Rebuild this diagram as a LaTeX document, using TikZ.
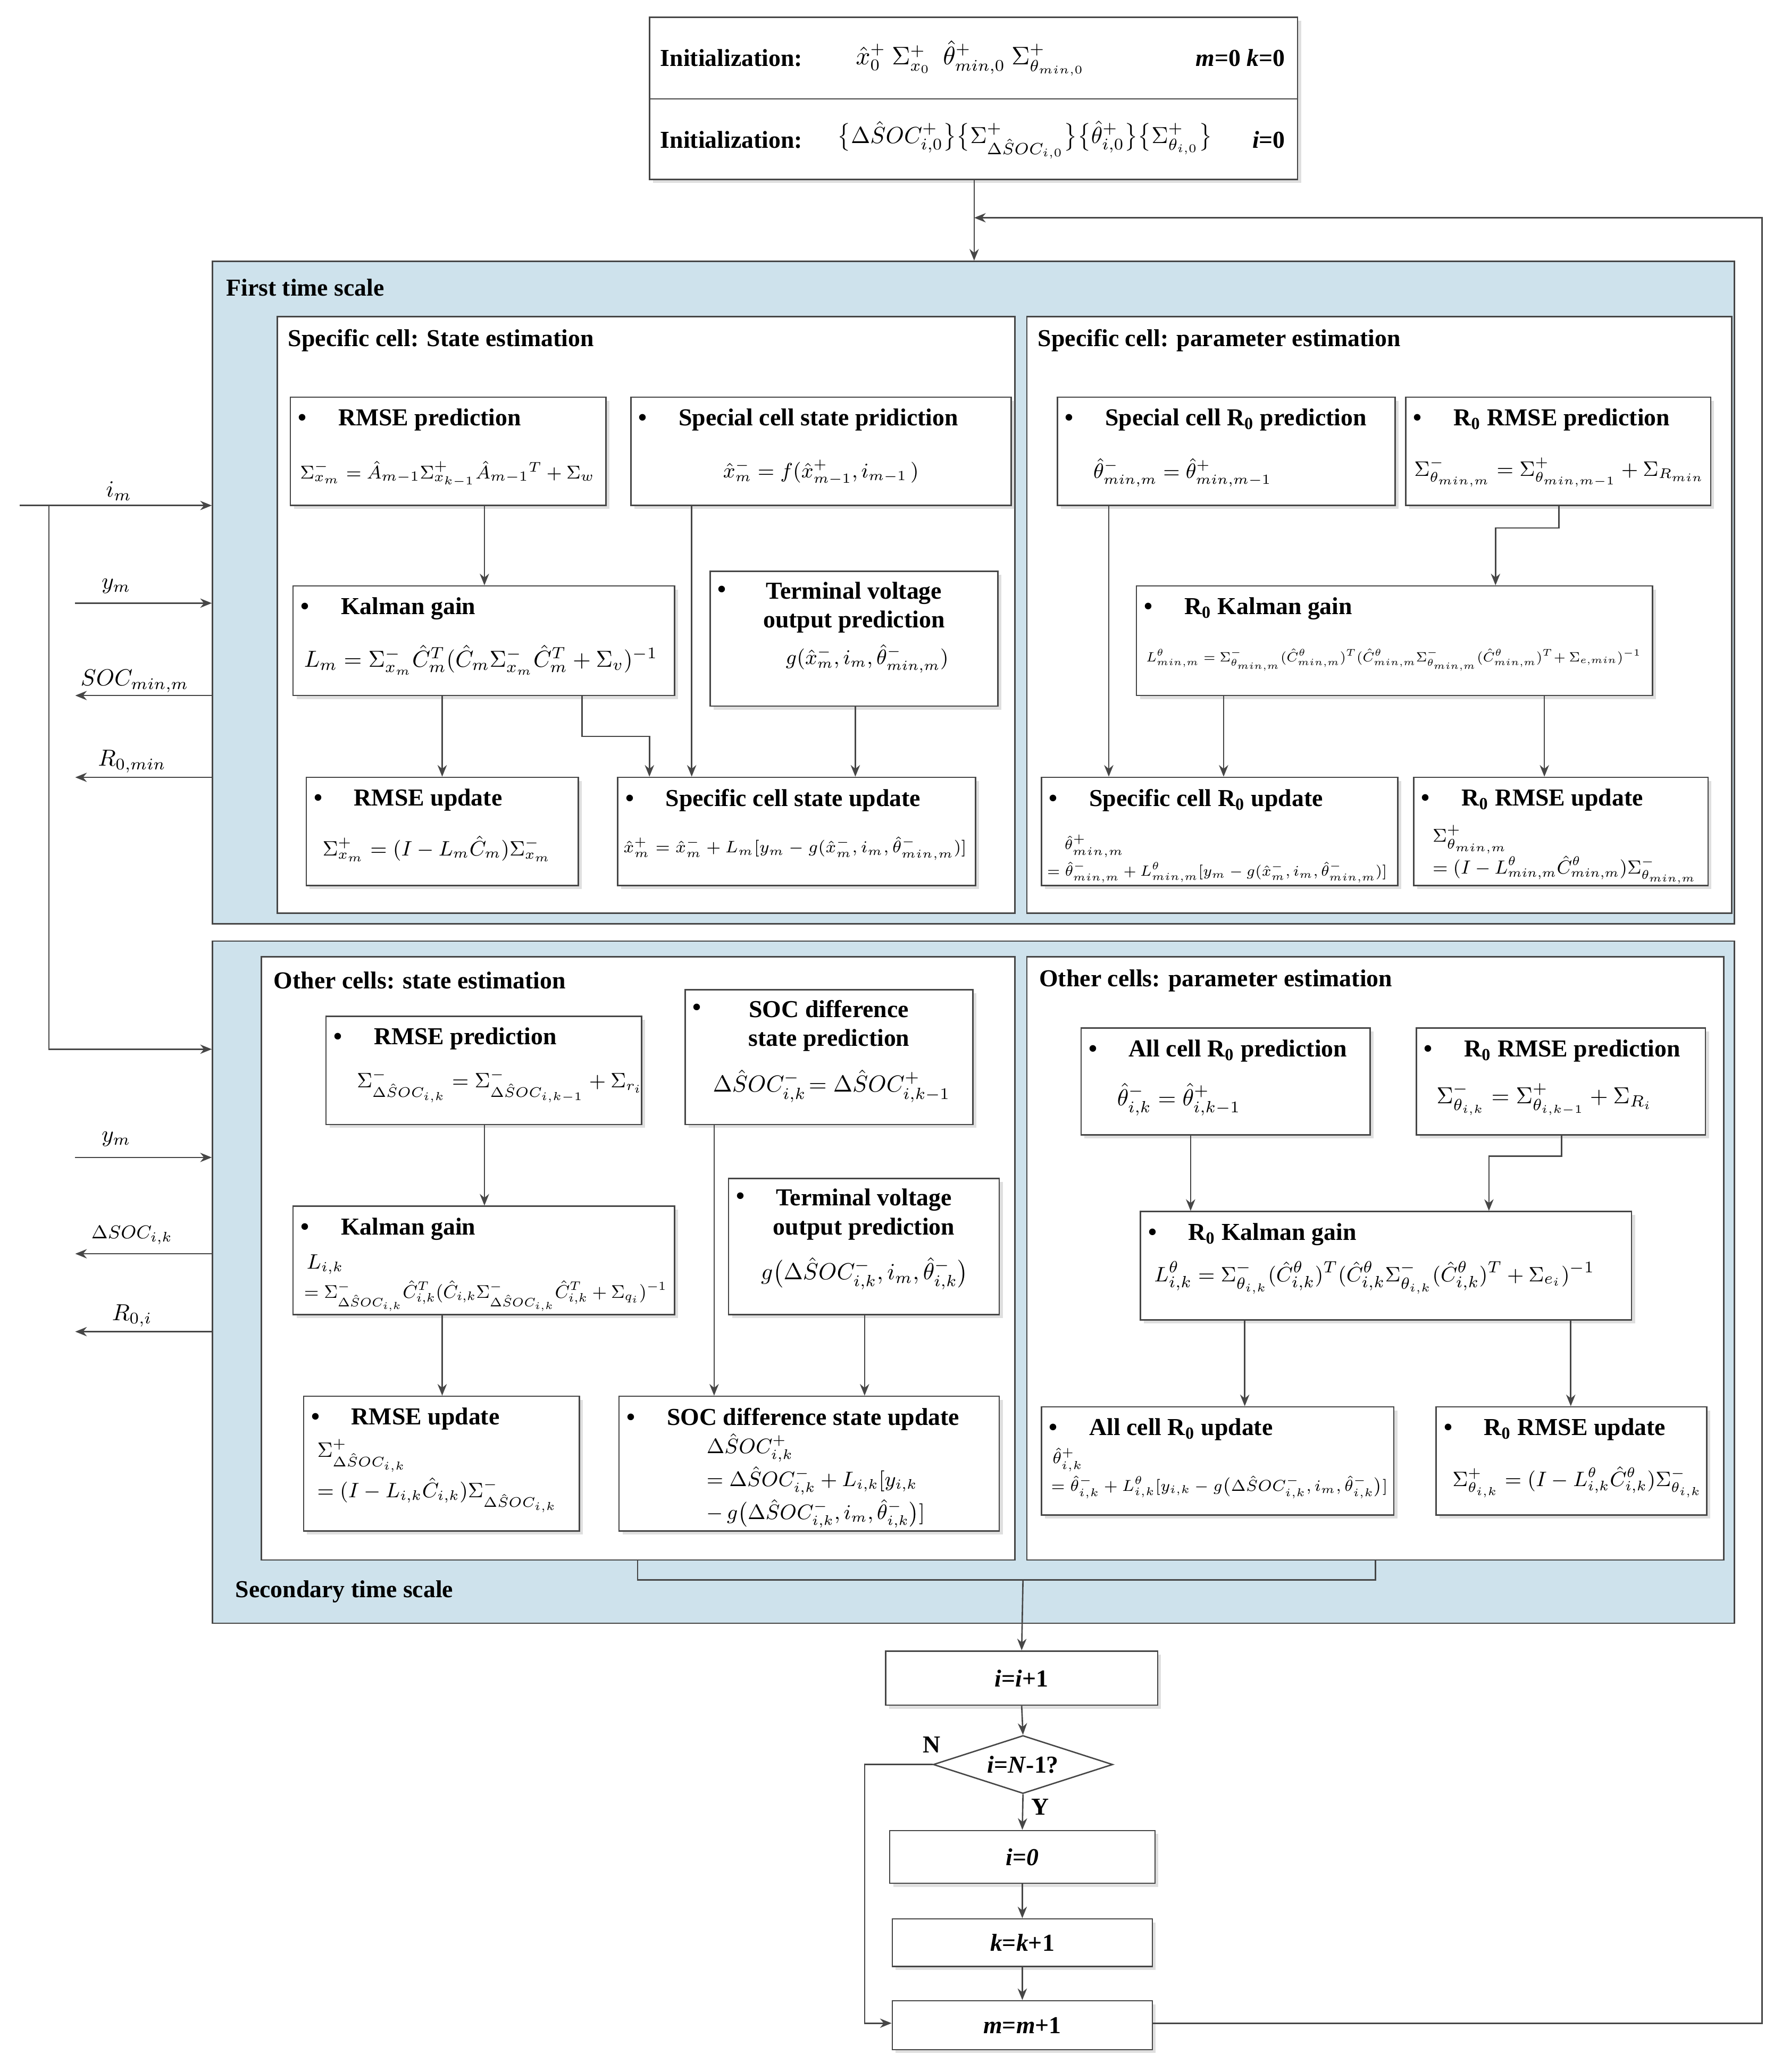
\documentclass[tikz,border=0pt]{standalone}
\usepackage{fontspec}
\setmainfont{Liberation Serif}
\usepackage{amsmath}
\usepackage{graphicx}
\usetikzlibrary{fit,shadows,arrows.meta,shapes.geometric}
\definecolor{panel}{RGB}{206,226,236}
\definecolor{ln}{RGB}{70,70,70}
\tikzset{
 box/.style={draw=ln,fill=white,inner sep=0pt,line width=0.6pt,drop shadow={opacity=0.25,shadow xshift=1.5pt,shadow yshift=-1.5pt}},
 pan/.style={draw=ln,inner sep=0pt,line width=0.6pt},
 ttl/.style={font=\fontsize{10.5}{12.5}\selectfont\bfseries,inner sep=0pt},
 fml/.style={font=\fontsize{9}{11}\selectfont,inner sep=0pt},
 sml/.style={font=\fontsize{7}{9}\selectfont,inner sep=0pt},
 lbl/.style={font=\fontsize{10}{12}\selectfont,inner sep=0pt},
 arr/.style={draw=ln,line width=0.6pt,-{Stealth[length=5pt,width=4pt]}},
 lin/.style={draw=ln,line width=0.6pt}
}
\newcommand\mybox[6]{\node[box,fit={(#2,#3)(#4,#5)}] (#1) {};
 \node[ttl,anchor=north west] at ([shift={(6,9)}]#1.north west) {\textbullet\hspace{1.3em}#6};}
\newcommand\myboxc[6]{\node[box,fit={(#2,#3)(#4,#5)}] (#1) {};
 \node[ttl,anchor=north west] at ([shift={(6,11)}]#1.north west) {\textbullet};
 \node[ttl,anchor=north,align=center] at ([shift={(0,8)}]#1.north) {#6};}
\newcommand\fitw[2]{\resizebox{#1}{!}{#2}}
\begin{document}
\begin{tikzpicture}[x=0.02cm,y=-0.02cm]
\useasboundingbox (0,0) rectangle (1350,1570);
% init
\node[box,fit={(492,13)(983,136)}] (init) {};
\draw[lin] (492,75) -- (983,75);
\node[ttl,anchor=west] at (500,44) {Initialization:};
\node[fml,anchor=west] at (648,44) {\fontsize{10.5}{12}\selectfont$\hat x_0^+\ \Sigma^+_{x_0}\ \ \hat\theta^+_{min,0}\ \Sigma^+_{\theta_{min,0}}$};
\node[ttl,anchor=east] at (974,44) {\textit{m}=0 \textit{k}=0};
\node[ttl,anchor=west] at (500,106) {Initialization:};
\node[fml,anchor=west] at (634,106) {\fontsize{10}{12}\selectfont$\big\{\Delta\hat SOC^+_{i,0}\big\}\big\{\Sigma^+_{\Delta\hat SOC_{i,0}}\big\}\big\{\hat\theta^+_{i,0}\big\}\big\{\Sigma^+_{\theta_{i,0}}\big\}$};
\node[ttl,anchor=east] at (974,106) {\textit{i}=0};
% first panel
\node[pan,fill=panel,fit={(161,198)(1314,700)}] (p1) {};
\node[ttl,anchor=west] at (171,218) {First time scale};
\node[pan,fill=white,fit={(210,240)(769,692)}] (s1) {};
\node[ttl,anchor=west] at (218,258) {Specific cell: State estimation};
\node[pan,fill=white,fit={(778,240)(1312,692)}] (s2) {};
\node[ttl,anchor=west] at (786,258) {Specific cell: parameter estimation};

\mybox{a1}{220}{301}{459}{383}{RMSE prediction}
\node[fml,anchor=west] at (227,359) {\fontsize{8.5}{10}\selectfont$\Sigma^-_{x_m}=\hat A_{m-1}\Sigma^+_{x_{k-1}}\hat A_{m-1}{}^{T}+\Sigma_w$};
\mybox{a2}{478}{301}{766}{383}{Special cell state pridiction}
\node[fml] at (622,358) {$\hat x^-_m=f(\hat x^+_{m-1},i_{m-1}\,)$};
\mybox{a3}{222}{444}{511}{527}{Kalman gain}
\node[fml,anchor=west] at (230,500) {\fontsize{10}{12}\selectfont$L_m=\Sigma^-_{x_m}\hat C_m^T(\hat C_m\Sigma^-_{x_m}\hat C_m^T+\Sigma_v)^{-1}$};
\myboxc{a4}{538}{433}{756}{535}{Terminal voltage\\output prediction}
\node[fml] at (657,499) {$g(\hat x^-_m,i_m,\hat\theta^-_{min,m})$};
\mybox{a5}{232}{589}{438}{671}{RMSE update}
\node[fml,anchor=west] at (244,643) {$\Sigma^+_{x_m}=(I-L_m\hat C_m)\Sigma^-_{x_m}$};
\mybox{a6}{468}{589}{739}{671}{Specific cell state update}
\node[sml,anchor=west] at (472,643) {\fitw{5.2cm}{$\hat x^+_m=\hat x^-_m+L_m[y_m-g(\hat x^-_m,i_m,\hat\theta^-_{min,m})]$}};

\mybox{b1}{801}{301}{1057}{383}{Special cell R$_\mathbf{0}$ prediction}
\node[fml,anchor=west] at (828,358) {$\hat\theta^-_{min,m}=\hat\theta^+_{min,m-1}$};
\mybox{b2}{1065}{301}{1296}{383}{R$_\mathbf{0}$ RMSE prediction}
\node[fml,anchor=west] at (1071,358) {\fitw{4.4cm}{$\Sigma^-_{\theta_{min,m}}=\Sigma^+_{\theta_{min,m-1}}+\Sigma_{R_{min}}$}};
\mybox{b3}{861}{444}{1252}{527}{R$_\mathbf{0}$ Kalman gain}
\node[sml,anchor=west] at (868,500) {\fitw{7.5cm}{$L^\theta_{min,m}=\Sigma^-_{\theta_{min,m}}(\hat C^\theta_{min,m})^T(\hat C^\theta_{min,m}\Sigma^-_{\theta_{min,m}}(\hat C^\theta_{min,m})^T\!+\Sigma_{e,min})^{-1}$}};
\mybox{b4}{789}{589}{1059}{671}{Specific cell R$_\mathbf{0}$ update}
\node[sml,anchor=west] at (806,641) {\fontsize{6.3}{8}\selectfont$\hat\theta^+_{min,m}$};
\node[sml,anchor=west] at (793,661) {\fitw{5.15cm}{$=\hat\theta^-_{min,m}+L^\theta_{min,m}[y_m-g(\hat x^-_m,i_m,\hat\theta^-_{min,m})]$}};
\mybox{b5}{1071}{589}{1294}{671}{R$_\mathbf{0}$ RMSE update}
\node[fml,anchor=west] at (1085,636) {\fontsize{8}{10}\selectfont$\Sigma^+_{\theta_{min,m}}$};
\node[fml,anchor=west] at (1085,659) {\fitw{4.0cm}{$=(I-L^\theta_{min,m}\hat C^\theta_{min,m})\Sigma^-_{\theta_{min,m}}$}};

\draw[arr] (a1.south -| 367,0) -- (a3.north -| 367,0);
\draw[arr] (a2.south -| 524,0) -- (a6.north -| 524,0);
\draw[arr] (a3.south -| 335,0) -- (a5.north -| 335,0);
\draw[arr] (a3.south -| 441,0) -- (441,558) -- (492,558) -- (a6.north -| 492,0);
\draw[arr] (a4.south -| 648,0) -- (a6.north -| 648,0);
\draw[arr] (b1.south -| 840,0) -- (b4.north -| 840,0);
\draw[arr] (b2.south -| 1181,0) -- (1181,400) -- (1133,400) -- (b3.north -| 1133,0);
\draw[arr] (b3.south -| 927,0) -- (b4.north -| 927,0);
\draw[arr] (b3.south -| 1170,0) -- (b5.north -| 1170,0);

% second panel
\node[pan,fill=panel,fit={(161,713)(1314,1230)}] (p2) {};
\node[ttl,anchor=west] at (178,1206) {Secondary time scale};
\node[pan,fill=white,fit={(198,725)(769,1182)}] (s3) {};
\node[ttl,anchor=west] at (207,743) {Other cells: state estimation};
\node[pan,fill=white,fit={(778,725)(1306,1182)}] (s4) {};
\node[ttl,anchor=west] at (787,743) {Other cells: parameter estimation};

\mybox{c1}{247}{770}{486}{852}{RMSE prediction}
\node[fml,anchor=west] at (270,823) {$\Sigma^-_{\Delta\hat SOC_{i,k}}=\Sigma^-_{\Delta\hat SOC_{i,k-1}}+\Sigma_{r_i}$};
\myboxc{c2}{519}{750}{737}{852}{SOC difference\\state prediction}
\node[fml] at (630,823) {\fontsize{10}{12}\selectfont$\Delta\hat SOC^-_{i,k}\!=\Delta\hat SOC^+_{i,k-1}$};
\mybox{c3}{222}{914}{511}{996}{Kalman gain}
\node[fml,anchor=west] at (232,958) {$L_{i,k}$};
\node[fml,anchor=west] at (230,982) {\fitw{5.5cm}{$=\Sigma^-_{\Delta\hat SOC_{i,k}}\hat C^T_{i,k}(\hat C_{i,k}\Sigma^-_{\Delta\hat SOC_{i,k}}\hat C^T_{i,k}+\Sigma_{q_i})^{-1}$}};
\myboxc{c4}{552}{893}{757}{996}{Terminal voltage\\output prediction}
\node[fml] at (655,965) {\fontsize{10}{12}\selectfont$g\big(\Delta\hat SOC^-_{i,k},i_m,\hat\theta^-_{i,k}\big)$};
\mybox{c5}{230}{1058}{439}{1160}{RMSE update}
\node[fml,anchor=west] at (240,1103) {$\Sigma^+_{\Delta\hat SOC_{i,k}}$};
\node[fml,anchor=west] at (240,1133) {$=(I-L_{i,k}\hat C_{i,k})\Sigma^-_{\Delta\hat SOC_{i,k}}$};
\mybox{c6}{469}{1058}{757}{1160}{SOC difference state update}
\node[fml,anchor=west] at (535,1097) {$\Delta\hat SOC^+_{i,k}$};
\node[fml,anchor=west] at (535,1122) {$=\Delta\hat SOC^-_{i,k}+L_{i,k}[y_{i,k}$};
\node[fml,anchor=west] at (535,1147) {$-\,g\big(\Delta\hat SOC^-_{i,k},i_m,\hat\theta^-_{i,k}\big)]$};

\mybox{d1}{819}{779}{1038}{860}{All cell R$_\mathbf{0}$ prediction}
\node[fml,anchor=west] at (846,833) {\fontsize{10}{12}\selectfont$\hat\theta^-_{i,k}=\hat\theta^+_{i,k-1}$};
\mybox{d2}{1073}{779}{1292}{860}{R$_\mathbf{0}$ RMSE prediction}
\node[fml,anchor=west] at (1088,833) {\fontsize{10}{12}\selectfont$\Sigma^-_{\theta_{i,k}}=\Sigma^+_{\theta_{i,k-1}}+\Sigma_{R_i}$};
\mybox{d3}{864}{918}{1236}{1000}{R$_\mathbf{0}$ Kalman gain}
\node[fml,anchor=west] at (874,968) {\fontsize{9.5}{12}\selectfont$L^\theta_{i,k}=\Sigma^-_{\theta_{i,k}}(\hat C^\theta_{i,k})^T(\hat C^\theta_{i,k}\Sigma^-_{\theta_{i,k}}(\hat C^\theta_{i,k})^T+\Sigma_{e_i})^{-1}$};
\mybox{d4}{789}{1066}{1056}{1148}{All cell R$_\mathbf{0}$ update}
\node[sml,anchor=west] at (797,1106) {$\hat\theta^+_{i,k}$};
\node[sml,anchor=west] at (796,1127) {\fitw{5.1cm}{$=\hat\theta^-_{i,k}+L^\theta_{i,k}[y_{i,k}-g\big(\Delta\hat SOC^-_{i,k},i_m,\hat\theta^-_{i,k}\big)]$}};
\mybox{d5}{1088}{1066}{1293}{1148}{R$_\mathbf{0}$ RMSE update}
\node[fml,anchor=west] at (1100,1123) {$\Sigma^+_{\theta_{i,k}}=(I-L^\theta_{i,k}\hat C^\theta_{i,k})\Sigma^-_{\theta_{i,k}}$};

\draw[arr] (c1.south -| 367,0) -- (c3.north -| 367,0);
\draw[arr] (c2.south -| 541,0) -- (c6.north -| 541,0);
\draw[arr] (c3.south -| 335,0) -- (c5.north -| 335,0);
\draw[arr] (c4.south -| 655,0) -- (c6.north -| 655,0);
\draw[arr] (d1.south -| 902,0) -- (d3.north -| 902,0);
\draw[arr] (d2.south -| 1183,0) -- (1183,876) -- (1128,876) -- (d3.north -| 1128,0);
\draw[arr] (d3.south -| 943,0) -- (d4.north -| 943,0);
\draw[arr] (d3.south -| 1190,0) -- (d5.north -| 1190,0);

% left signals
\coordinate (im0) at (15,383);
\draw[arr] (im0) -- (p1.west |- im0);
\node[lbl] at (90,372) {$i_m$};
\coordinate (br) at (37,383);
\draw[arr] (br) -- (37,795) -- (p2.west |- 0,795);
\coordinate (ym0) at (57,457);
\draw[arr] (ym0) -- (p1.west |- ym0);
\node[lbl] at (88,444) {$y_m$};
\coordinate (soc0) at (57,527);
\draw[arr] (p1.west |- soc0) -- (soc0);
\node[lbl] at (102,516) {$SOC_{min,m}$};
\coordinate (r00) at (57,589);
\draw[arr] (p1.west |- r00) -- (r00);
\node[lbl] at (100,577) {$R_{0,min}$};
\coordinate (ym1) at (57,877);
\draw[arr] (ym1) -- (p2.west |- ym1);
\node[lbl] at (88,863) {$y_m$};
\coordinate (ds0) at (57,950);
\draw[arr] (p2.west |- ds0) -- (ds0);
\node[sml] at (100,936) {\fontsize{8}{10}\selectfont$\Delta SOC_{i,k}$};
\coordinate (r0i) at (57,1009);
\draw[arr] (p2.west |- r0i) -- (r0i);
\node[lbl] at (100,997) {$R_{0,i}$};

% bottom flow
\draw[lin] (483,1182) -- (483,1197) -- (1042,1197) -- (1042,1182);
\node[box,fit={(671,1251)(877,1292)}] (inc) {};
\node[ttl] at (inc) {\textit{i}=\textit{i}+1};
\draw[arr] (775,1197) -- (inc.north);
\node[draw=ln,fill=white,diamond,aspect=3.1,minimum width=136*0.02cm,minimum height=44*0.02cm,inner sep=0pt,line width=0.6pt] (dec) at (775,1337) {};
\node[ttl] at (dec) {\textit{i}=\textit{N}-1?};
\draw[arr] (inc.south) -- (dec.north);
\node[box,fit={(674,1387)(875,1427)}] (iz) {};
\node[ttl] at (iz) {\textit{i}=\textit{0}};
\draw[arr] (dec.south) -- (iz.north);
\node[ttl] at (788,1369) {Y};
\node[ttl] at (706,1322) {N};
\node[box,fit={(676,1454)(873,1490)}] (kk) {};
\node[ttl] at (kk) {\textit{k}=\textit{k}+1};
\draw[arr] (iz.south) -- (kk.north);
\node[box,fit={(676,1516)(873,1553)}] (mm) {};
\node[ttl] at (mm) {\textit{m}=\textit{m}+1};
\draw[arr] (kk.south) -- (mm.north);
\draw[arr] (dec.west) -- (655,1337) -- (655,1533) -- (mm.west |- 0,1533);
\draw[arr] (mm.east |- 0,1533) -- (1335,1533) -- (1335,165) -- (738,165);
\draw[arr] (init.south -| 738,0) -- (p1.north -| 738,0);
\end{tikzpicture}
\end{document}
